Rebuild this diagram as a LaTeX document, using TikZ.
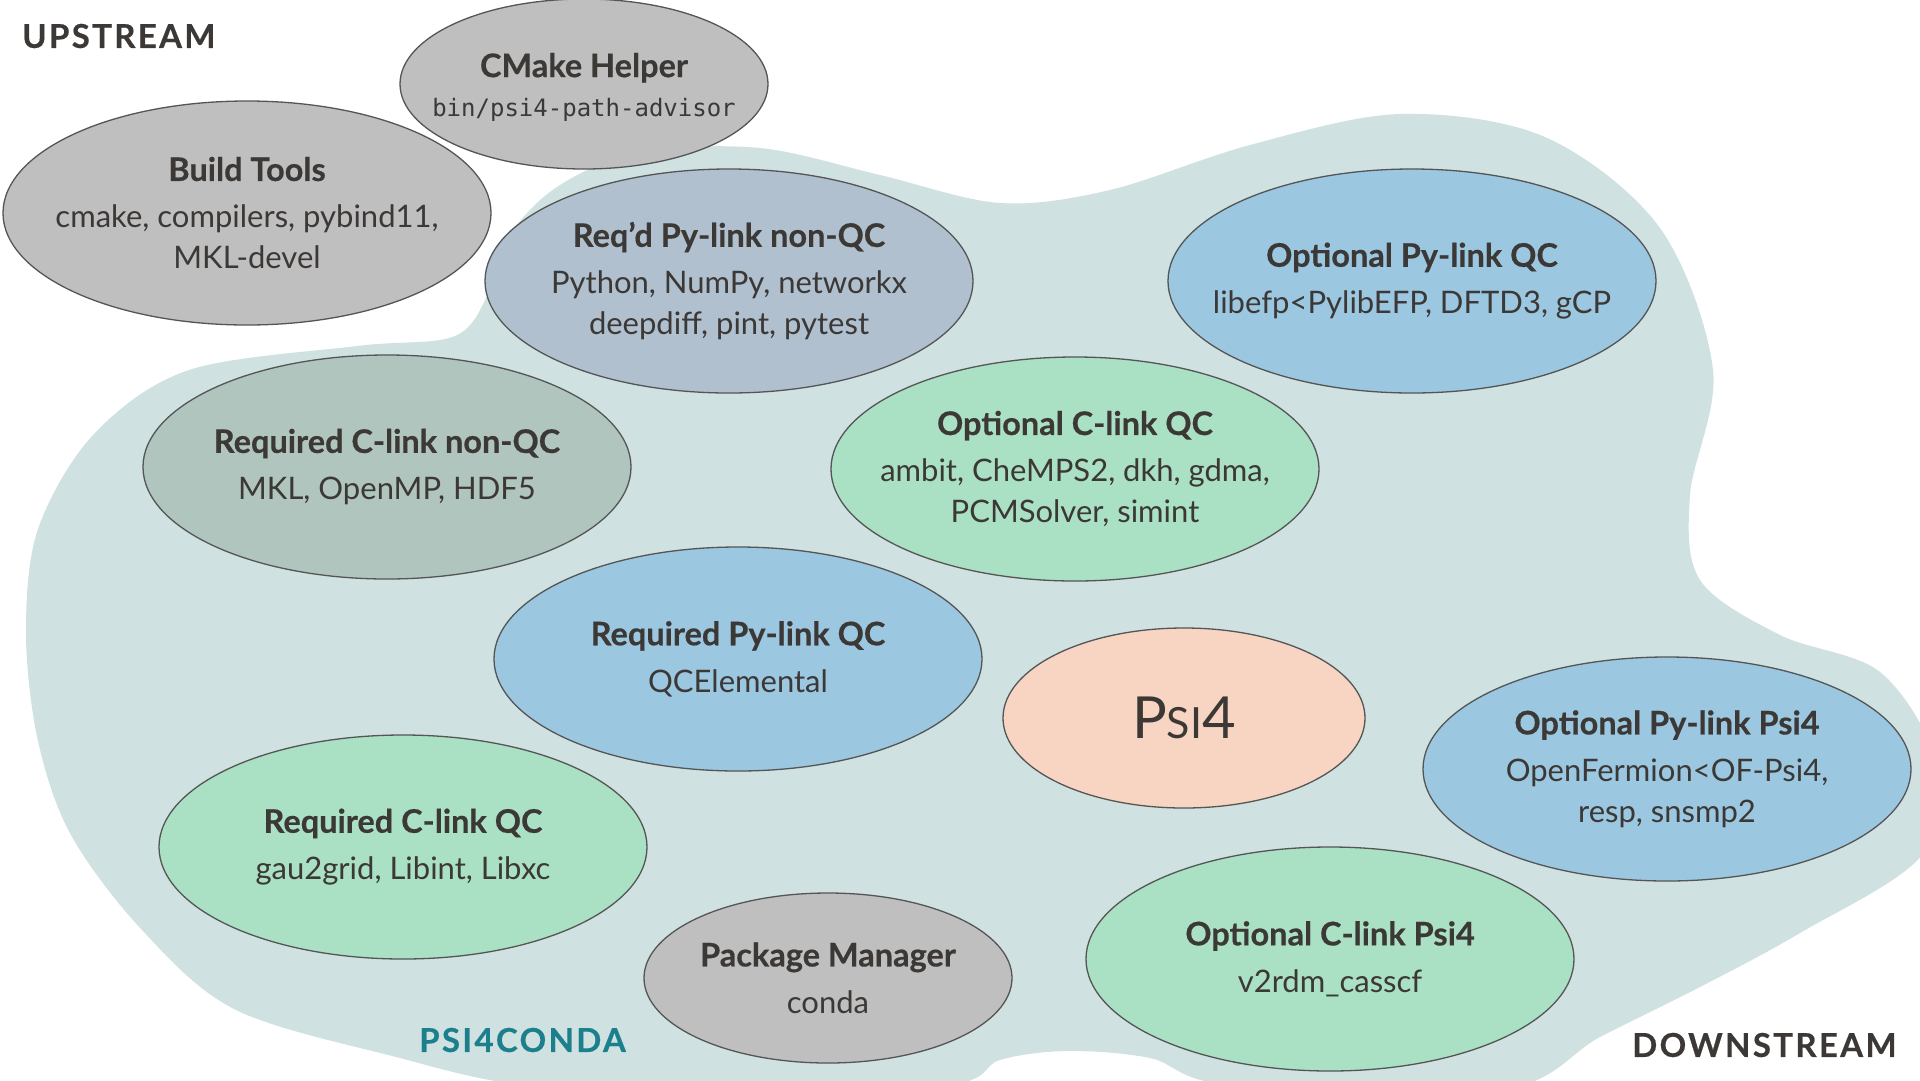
\documentclass[tikz,border=0pt]{standalone}
\usepackage{fontspec}
\setmainfont{Lato}
\setmonofont{DejaVu Sans Mono}
\newfontfamily\spacedfont[LetterSpace=7, BoldFeatures={FakeBold=0.4}]{Lato}
\newfontfamily\titlefont[BoldFeatures={FakeBold=0.4}]{Lato}
\usetikzlibrary{shapes.geometric}
\definecolor{blobc}{HTML}{CFE1E1}
\definecolor{grayc}{HTML}{BFBFBF}
\definecolor{slatec}{HTML}{B0C0CF}
\definecolor{sagec}{HTML}{B0C5BD}
\definecolor{bluec}{HTML}{9BC7E1}
\definecolor{greenc}{HTML}{AAE0C3}
\definecolor{peachc}{HTML}{F8D4C3}
\definecolor{edgec}{HTML}{555555}
\definecolor{ink}{HTML}{3B3836}
\definecolor{tealink}{HTML}{1B7F8C}
\newcommand{\ttl}[1]{{\titlefont\bfseries\fontsize{32.5}{41}\selectfont #1}}
\tikzset{
  bub/.style={ellipse, draw=edgec, line width=1.3pt, inner sep=0pt,
    minimum width=488pt, minimum height=224pt},
  smallbub/.style={bub, minimum width=368pt, minimum height=170pt},
  txt/.style={align=center, text=ink, inner sep=0pt,
    font=\fontsize{31}{41}\selectfont},
  zone/.style={inner sep=0pt, anchor=west,
    font=\spacedfont\bfseries\fontsize{33}{36}\selectfont}
}
\begin{document}
\begin{tikzpicture}[x=1pt,y=-1pt]
\useasboundingbox (0,0) rectangle (1920,1080);
\begin{scope}
\clip (0,0) rectangle (1920,1080);
\fill[blobc] plot[smooth cycle, tension=0.55] coordinates {
  (560,185) (640,152) (760,148) (880,175) (1000,203) (1110,190)
  (1250,145) (1400,114) (1545,137) (1660,228) (1713,370) (1690,495)
  (1700,580) (1780,635) (1880,672) (1935,760) (1922,855) (1800,933)
  (1700,987) (1600,1037) (1500,1090)
  (1230,1085) (1150,1058) (1067,1051) (1000,1060) (953,1085)
  (740,1110) (519,1085) (400,1058) (236,1010) (142,930) (71,835)
  (38,741) (26,633) (38,529) (94,434) (189,370) (357,346) (455,336)
  (490,290) (512,232)};
\end{scope}

\node[bub, fill=grayc] (bt) at (247,213) {};
\node[txt] (btt) at (bt.center) {\ttl{Build Tools}\\[6pt] cmake, compilers, pybind11,\\ MKL-devel};

\node[smallbub, fill=grayc] (cm) at (584,84) {};
\node[txt] (cmt) at ([yshift=-3pt]cm.center) {\ttl{CMake Helper}\\[-2pt] {\ttfamily\fontsize{24}{30}\selectfont bin/psi4-path-advisor}};

\node[bub, fill=slatec] (rn) at (729,281) {};
\node[txt] (rnt) at (rn.center) {\ttl{Req’d Py-link non-QC}\\[6pt] Python, NumPy, networkx\\ deepdiff, pint, pytest};

\node[bub, fill=bluec] (opq) at (1412,281) {};
\node[txt] (opqt) at (opq.center) {\ttl{Optional Py-link QC}\\[6pt] libefp<PylibEFP, DFTD3, gCP};

\node[bub, fill=sagec] (rcn) at (387,467) {};
\node[txt] (rcnt) at (rcn.center) {\ttl{Required C-link non-QC}\\[6pt] MKL, OpenMP, HDF5};

\node[bub, fill=greenc] (ocq) at (1075,469) {};
\node[txt] (ocqt) at (ocq.center) {\ttl{Optional C-link QC}\\[6pt] ambit, CheMPS2, dkh, gdma,\\ PCMSolver, simint};

\node[bub, fill=bluec] (rpq) at (738,659) {};
\node[txt] (rpqt) at (rpq.center) {\ttl{Required Py-link QC}\\[6pt] QCElemental};

\node[bub, fill=peachc, minimum width=362pt, minimum height=180pt] (psi) at (1184,718) {};
\node[txt] (psit) at (psi.center) {\fontsize{58}{60}\selectfont P\fontsize{43}{44}\selectfont SI\fontsize{58}{60}\selectfont 4};

\node[bub, fill=bluec] (opp) at (1667,769) {};
\node[txt] (oppt) at (opp.center) {\ttl{Optional Py-link Psi4}\\[6pt] OpenFermion<OF-Psi4,\\ resp, snsmp2};

\node[bub, fill=greenc] (rcq) at (403,847) {};
\node[txt] (rcqt) at (rcq.center) {\ttl{Required C-link QC}\\[6pt] gau2grid, Libint, Libxc};

\node[smallbub, fill=grayc] (pm) at (828,978) {};
\node[txt] (pmt) at (pm.center) {\ttl{Package Manager}\\[6pt] conda};

\node[bub, fill=greenc] (ocp) at (1330,959) {};
\node[txt] (ocpt) at (ocp.center) {\ttl{Optional C-link Psi4}\\[6pt] v2rdm\_casscf};

\node[zone, text=ink] (up) at (22,36) {UPSTREAM};
\node[zone, text=ink] (down) at (1632,1045) {DOWNSTREAM};
\node[zone, text=tealink] (conda) at (419,1040) {PSI4CONDA};
\end{tikzpicture}
\end{document}
